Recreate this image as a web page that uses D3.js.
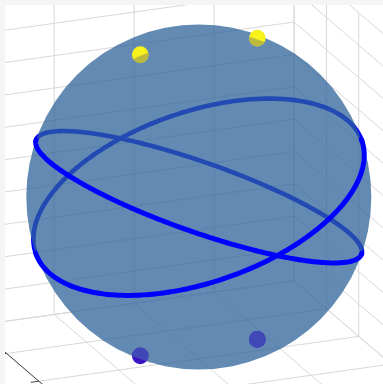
<!DOCTYPE html>
<html><head><meta charset="utf-8">
<script src="https://cdn.jsdelivr.net/npm/d3@7"></script>
<style>html,body{margin:0;padding:0;background:#f5f5f5;overflow:hidden}</style>
</head><body><svg id="chart" width="383" height="384"></svg>
<script>
// ---------- data ----------
const axisRange = [-1, 1];
const xTicks = [-1, -0.5, 0, 0.5, 1];
const yTicks = [-1, -0.5, 0, 0.5, 1];
const zTicks = [-1, -0.8, -0.6, -0.4, -0.2, 0, 0.2, 0.4, 0.6, 0.8, 1];
const sphereCenter = [0, 0, 0];
const sphereRadius = 1;
// great circles, given by their normal vectors
const circleNormalX = [0.35, -0.33];
const circleNormalY = [0.0, -0.06];
const circleNormalZ = [0.937, 0.942];
// marker points
const pointX = [-0.366, 0.366, -0.366, 0.366];
const pointY = [0, 0, 0, 0];
const pointZ = [0.931, 0.931, -0.931, -0.931];
const pointColor = ["#f8f21c", "#f8f21c", "#3c14c6", "#3c14c6"];
const pointCovered = ["#bcba3c", "#bcba3c", "#4048b8", "#4048b8"];

// ---------- layout ----------
const W = 383, H = 384;
const deg = Math.PI / 180, th = 22 * deg, ph = 20.3 * deg;
const Rv = [Math.cos(th), -Math.sin(th), 0];
const Dv = [-Math.sin(ph) * Math.sin(th), -Math.sin(ph) * Math.cos(th), -Math.cos(ph)];
const Fv = [-Math.cos(ph) * Math.sin(th), -Math.cos(ph) * Math.cos(th), Math.sin(ph)];
const CX = 198.8, CY = 197, S = 172.5;

const xs = d3.scaleLinear().domain(axisRange).range([-1, 1]);
const ys = d3.scaleLinear().domain(axisRange).range([-1, 1]);
const zs = d3.scaleLinear().domain(axisRange).range([-1, 1]);
const sx = d3.scaleLinear().domain([-1, 1]).range([CX - S, CX + S]);
const sy = d3.scaleLinear().domain([-1, 1]).range([CY - S, CY + S]);
const len = d3.scaleLinear().domain([0, 1]).range([0, S]);

const dot = (a, b) => a[0] * b[0] + a[1] * b[1] + a[2] * b[2];
const cross = (a, b) => [a[1] * b[2] - a[2] * b[1], a[2] * b[0] - a[0] * b[2], a[0] * b[1] - a[1] * b[0]];
const norm = a => { const l = Math.hypot(a[0], a[1], a[2]); return [a[0] / l, a[1] / l, a[2] / l]; };
const world = (x, y, z) => [xs(x), ys(y), zs(z)];
const proj = p => [sx(dot(Rv, p)), sy(dot(Dv, p))];

const svg = d3.select('#chart');
const defs = svg.append('defs');
defs.append('clipPath').attr('id', 'scene').append('rect')
  .attr('x', 5).attr('y', 5).attr('width', W - 5).attr('height', H - 5);
svg.append('rect').attr('width', W).attr('height', H).attr('fill', '#f5f5f5');
svg.append('rect').attr('x', 5).attr('y', 5).attr('width', W - 5).attr('height', H - 5).attr('fill', '#ffffff');

const g = svg.append('g').attr('clip-path', 'url(#scene)');
const line = d3.line();

// ---------- grid on back walls and floor ----------
const segs = [];
xTicks.forEach(x => { segs.push([[x, -1, -1], [x, 1, -1]]); segs.push([[x, 1, -1], [x, 1, 1]]); });
yTicks.forEach(y => { segs.push([[-1, y, -1], [1, y, -1]]); segs.push([[1, y, -1], [1, y, 1]]); });
zTicks.forEach(z => { segs.push([[-1, 1, z], [1, 1, z]]); segs.push([[1, -1, z], [1, 1, z]]); });
g.append('g').selectAll('path').data(segs).join('path')
  .attr('d', s => line(s.map(q => proj(world(...q)))))
  .attr('fill', 'none').attr('stroke', '#d8d8d8').attr('stroke-width', 1);

// y axis line with ticks
g.append('path').attr('d', line([proj(world(-1, -1, -1)), proj(world(-1, 1, -1))]))
  .attr('stroke', '#444').attr('stroke-width', 1).attr('fill', 'none');
g.append('g').selectAll('path').data(yTicks).join('path')
  .attr('d', y => line([proj(world(-1, y, -1)), proj(world(-1.05, y, -1))]))
  .attr('stroke', '#444').attr('stroke-width', 1);

// ---------- circles ----------
const sphC = proj(world(...sphereCenter));
const sphR = len(sphereRadius);
const circles = circleNormalX.map((nx, i) => {
  const n = norm([nx, circleNormalY[i], circleNormalZ[i]]);
  const e1 = norm(cross(n, Fv));
  const e2 = norm(cross(n, e1));
  const pts = d3.range(0, 361, 1).map(a => {
    const t = a * deg;
    const p = [0, 1, 2].map(k => sphereRadius * (Math.cos(t) * e1[k] + Math.sin(t) * e2[k]));
    return { xy: proj(p), dep: dot(Fv, p) };
  });
  const front = [], back = [];
  let cur = [pts[0]], sign = pts[0].dep >= 0;
  for (let i = 1; i < pts.length; i++) {
    const s = pts[i].dep >= 0;
    cur.push(pts[i]);
    if (s !== sign) { (sign ? front : back).push(cur); cur = [pts[i - 1], pts[i]]; sign = s; }
  }
  (sign ? front : back).push(cur);
  return { front, back };
});

// back arcs (behind the sphere)
circles.forEach(c => {
  g.append('g').selectAll('path').data(c.back).join('path')
    .attr('d', s => line(s.map(q => q.xy)))
    .attr('fill', 'none').attr('stroke', '#0000ff').attr('stroke-width', 4.6)
    .attr('stroke-linecap', 'round');
});

// back points
const pts = pointX.map((x, i) => {
  const p = world(x, pointY[i], pointZ[i]);
  return { xy: proj(p), dep: dot(Fv, p), c: pointColor[i], cc: pointCovered[i], i };
});
const markerR = 8.3;
function drawPoint(p, coverR) {
  const cid = 'cov' + p.i;
  defs.append('clipPath').attr('id', cid).append('circle')
    .attr('cx', sphC[0]).attr('cy', sphC[1]).attr('r', coverR);
  g.append('circle').attr('cx', p.xy[0]).attr('cy', p.xy[1]).attr('r', markerR).attr('fill', p.c);
  g.append('g').attr('clip-path', 'url(#' + cid + ')')
    .append('circle').attr('cx', p.xy[0]).attr('cy', p.xy[1]).attr('r', markerR).attr('fill', p.cc);
}

// sphere
g.append('circle').attr('cx', sphC[0]).attr('cy', sphC[1]).attr('r', sphR)
  .attr('fill', '#2f6399').attr('fill-opacity', 0.75);

pts.filter(p => p.dep < 0).forEach(p => drawPoint(p, sphR));

// front arcs
circles.forEach(c => {
  g.append('g').selectAll('path').data(c.front).join('path')
    .attr('d', s => line(s.map(q => q.xy)))
    .attr('fill', 'none').attr('stroke', '#0000ff').attr('stroke-width', 5)
    .attr('stroke-linecap', 'round');
});

// front points
pts.filter(p => p.dep >= 0).forEach(p => {
  const dist = Math.hypot(p.xy[0] - sphC[0], p.xy[1] - sphC[1]);
  drawPoint(p, dist - 1);
});
</script></body></html>
